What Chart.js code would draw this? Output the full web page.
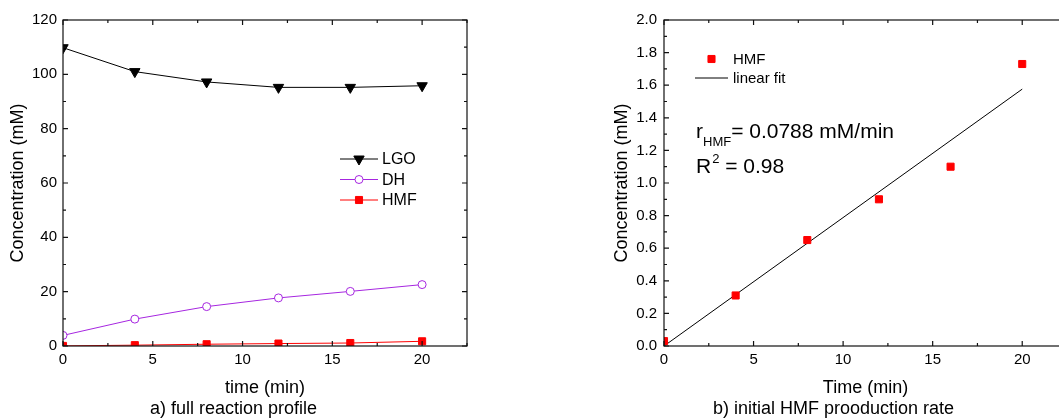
<!DOCTYPE html>
<html>
<head>
<meta charset="utf-8">
<script src="https://cdn.jsdelivr.net/npm/chart.js@4.4.1/dist/chart.umd.min.js"></script>
<style>
  body { margin: 0; width: 1059px; height: 420px; overflow: hidden; background: #fff; position: relative; }
  canvas { position: absolute; top: 0; }
  #left { left: 0; }
  #right { left: 600px; }
</style>
</head>
<body>
<canvas id="left" width="480" height="420"></canvas>
<canvas id="right" width="480" height="420"></canvas>
<script>
// values
const times = [0, 4, 8, 12, 16, 20];
const lgo = [109.8, 101, 97.2, 95.2, 95.2, 95.8];
const dh = [3.9, 9.9, 14.5, 17.7, 20.1, 22.6];
const hmf = [0.03, 0.31, 0.65, 0.9, 1.1, 1.73];
const fitTimes = [0, 20];
const fitValues = [0, 1.576];

const xMajor = [0, 5, 10, 15, 20];
const xMinor = [2.5, 7.5, 12.5, 17.5, 22.5];
const leftYMajor = [0, 20, 40, 60, 80, 100, 120];
const leftYMinor = [10, 30, 50, 70, 90, 110];
const rightYMajor = [0, 0.2, 0.4, 0.6, 0.8, 1.0, 1.2, 1.4, 1.6, 1.8, 2.0];
const rightYMinor = [0.1, 0.3, 0.5, 0.7, 0.9, 1.1, 1.3, 1.5, 1.7, 1.9];

const FONT = "Arial, 'Liberation Sans', sans-serif";
const PURPLE = '#a626e0';
const RED = '#ff0000';

const pts = (xs, ys) => xs.map((x, i) => ({ x: x, y: ys[i] }));

// frame box with inward ticks on all four sides
const framePlugin = {
    id: 'frame',
    afterDraw(chart, args, opts) {
        const { ctx, chartArea: a, scales } = chart;
        ctx.save();
        ctx.strokeStyle = '#111';
        ctx.lineWidth = 1.2;
        ctx.strokeRect(a.left, a.top, a.right - a.left, a.bottom - a.top);
        ctx.beginPath();
        const tick = (vals, len) => {
            vals.forEach(v => {
                const px = scales.x.getPixelForValue(v);
                ctx.moveTo(px, a.bottom); ctx.lineTo(px, a.bottom - len);
                ctx.moveTo(px, a.top); ctx.lineTo(px, a.top + len);
            });
        };
        const ytick = (vals, len) => {
            vals.forEach(v => {
                const py = scales.y.getPixelForValue(v);
                ctx.moveTo(a.left, py); ctx.lineTo(a.left + len, py);
                ctx.moveTo(a.right, py); ctx.lineTo(a.right - len, py);
            });
        };
        tick(opts.xMajor, 5); tick(opts.xMinor, 3);
        ytick(opts.yMajor, 5); ytick(opts.yMinor, 3);
        ctx.stroke();
        ctx.restore();
    }
};

// legend drawn inside the plot, at fixed places
const boxLegend = {
    id: 'boxLegend',
    afterDraw(chart, args, opts) {
        const ctx = chart.ctx;
        ctx.save();
        chart.data.datasets.forEach((ds, i) => {
            const y = opts.y + i * opts.rowGap;
            if (ds.showLine !== false) {
                ctx.strokeStyle = ds.borderColor;
                ctx.lineWidth = ds.borderWidth || 1;
                ctx.beginPath();
                ctx.moveTo(opts.x0, y);
                ctx.lineTo(opts.x1, y);
                ctx.stroke();
            }
            if (ds.pointRadius > 0) {
                ctx.fillStyle = ds.pointBackgroundColor;
                ctx.strokeStyle = ds.pointBorderColor;
                ctx.lineWidth = ds.pointBorderWidth || 1;
                Chart.helpers.drawPoint(ctx, {
                    pointStyle: ds.pointStyle,
                    radius: ds.pointRadius,
                    rotation: ds.pointRotation || 0,
                    borderWidth: ds.pointBorderWidth || 1
                }, (opts.x0 + opts.x1) / 2, y);
            }
            ctx.fillStyle = '#000';
            ctx.font = opts.size + 'px ' + FONT;
            ctx.textBaseline = 'middle';
            ctx.textAlign = 'left';
            ctx.fillText(ds.label, opts.tx, y + 1);
        });
        ctx.restore();
    }
};

// rate and R² annotation of the right panel
const fitText = {
    id: 'fitText',
    afterDraw(chart, args, opts) {
        if (!opts.show) return;
        const ctx = chart.ctx;
        ctx.save();
        ctx.fillStyle = '#000';
        ctx.textBaseline = 'alphabetic';
        ctx.textAlign = 'left';
        let x = opts.x;
        ctx.font = '21px ' + FONT;
        ctx.fillText('r', x, opts.y1);
        x += ctx.measureText('r').width;
        ctx.font = '13px ' + FONT;
        ctx.fillText('HMF', x, opts.y1 + 8);
        x += ctx.measureText('HMF').width;
        ctx.font = '21px ' + FONT;
        ctx.fillText('= 0.0788 mM/min', x, opts.y1);

        x = opts.x;
        ctx.fillText('R', x, opts.y2);
        x += ctx.measureText('R').width + 1;
        ctx.font = '13px ' + FONT;
        ctx.fillText('2', x, opts.y2 - 10);
        x += ctx.measureText('2').width;
        ctx.font = '21px ' + FONT;
        ctx.fillText(' = 0.98', x, opts.y2);
        ctx.restore();
    }
};

function makeOptions(cfg) {
    return {
        responsive: false,
        animation: false,
        layout: { padding: { top: 20, right: 13, left: 0, bottom: 0 } },
        scales: {
            x: {
                type: 'linear',
                min: 0,
                max: 22.5,
                afterFit: s => { s.height = 52.4; },
                grid: { display: false, drawTicks: false },
                border: { display: false },
                ticks: {
                    stepSize: 5,
                    includeBounds: false,
                    padding: 5,
                    color: '#000',
                    font: { family: FONT, size: 15 }
                },
                title: {
                    display: true,
                    text: cfg.xTitle,
                    color: '#000',
                    padding: { top: 0, bottom: 0 },
                    font: { family: FONT, size: 18 }
                }
            },
            y: {
                min: 0,
                max: cfg.yMax,
                afterFit: s => { s.width = cfg.yWidth; },
                grid: { display: false, drawTicks: false },
                border: { display: false },
                ticks: {
                    stepSize: cfg.yStep,
                    padding: cfg.yPad,
                    color: '#000',
                    font: { family: FONT, size: 15 },
                    callback: cfg.yFmt
                },
                title: {
                    display: true,
                    text: 'Concentration (mM)',
                    color: '#000',
                    padding: { top: cfg.yTitlePad, bottom: cfg.yTitlePad },
                    font: { family: FONT, size: 18 }
                }
            }
        },
        plugins: {
            legend: { display: false },
            tooltip: { enabled: false },
            title: {
                display: true,
                position: 'bottom',
                text: cfg.caption,
                color: '#000',
                padding: { top: 0, bottom: 0 },
                font: { family: FONT, size: 18, weight: 'normal' }
            },
            frame: { xMajor: xMajor, xMinor: xMinor, yMajor: cfg.yMajor, yMinor: cfg.yMinor },
            boxLegend: cfg.legend,
            fitText: cfg.fitText
        }
    };
}

new Chart(document.getElementById('left'), {
    type: 'line',
    data: {
        datasets: [
            {
                label: 'LGO',
                data: pts(times, lgo),
                borderColor: '#000',
                borderWidth: 1,
                pointStyle: 'triangle',
                pointRotation: 180,
                pointRadius: 6,
                pointBackgroundColor: '#000',
                pointBorderColor: '#000',
                pointBorderWidth: 1
            },
            {
                label: 'DH',
                data: pts(times, dh),
                borderColor: PURPLE,
                borderWidth: 1,
                pointStyle: 'circle',
                pointRadius: 4,
                pointBackgroundColor: '#fff',
                pointBorderColor: PURPLE,
                pointBorderWidth: 1
            },
            {
                label: 'HMF',
                data: pts(times, hmf),
                borderColor: RED,
                borderWidth: 1,
                pointStyle: 'rect',
                pointRadius: 5,
                pointBackgroundColor: RED,
                pointBorderColor: RED,
                pointBorderWidth: 1
            }
        ]
    },
    options: makeOptions({
        xTitle: 'time (min)',
        caption: 'a) full reaction profile',
        yMax: 120,
        yStep: 20,
        yWidth: 63,
        yPad: 6,
        yTitlePad: 7,
        yFmt: v => v,
        yMajor: leftYMajor,
        yMinor: leftYMinor,
        legend: { x0: 340, x1: 378, tx: 382, y: 159, rowGap: 20.5, size: 16 },
        fitText: { show: false }
    }),
    plugins: [framePlugin, boxLegend, fitText]
});

new Chart(document.getElementById('right'), {
    type: 'line',
    data: {
        datasets: [
            {
                label: 'HMF',
                data: pts(times, hmf),
                showLine: false,
                borderColor: RED,
                pointStyle: 'rect',
                pointRadius: 5,
                pointBackgroundColor: RED,
                pointBorderColor: RED,
                pointBorderWidth: 1
            },
            {
                label: 'linear fit',
                data: pts(fitTimes, fitValues),
                borderColor: '#000',
                borderWidth: 1,
                pointRadius: 0
            }
        ]
    },
    options: makeOptions({
        xTitle: 'Time (min)',
        caption: 'b) initial HMF prooduction rate',
        yMax: 2.0,
        yStep: 0.2,
        yWidth: 64,
        yPad: 7,
        yTitlePad: 11,
        yFmt: v => v.toFixed(1),
        yMajor: rightYMajor,
        yMinor: rightYMinor,
        legend: { x0: 95, x1: 128, tx: 133, y: 59, rowGap: 19, size: 15 },
        fitText: { show: true, x: 96, y1: 138, y2: 173 }
    }),
    plugins: [framePlugin, boxLegend, fitText]
});
</script>
</body>
</html>
